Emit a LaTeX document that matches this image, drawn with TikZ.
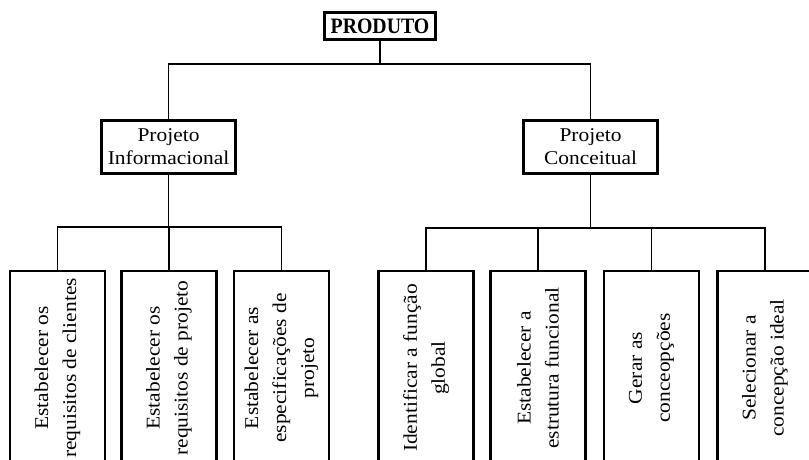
\documentclass[tikz,border=0pt]{standalone}
\usepackage{fontspec}
\setmainfont{Liberation Serif}[FakeStretch=1.1]
\newfontfamily\titlefont{Liberation Serif}[FakeStretch=0.9]
\begin{document}
\begin{tikzpicture}[x=1pt,y=-1pt,
  box/.style={draw=black, line width=2.8pt, rectangle, inner sep=2pt, align=center},
  topbox/.style={box, font=\titlefont\bfseries\fontsize{22}{26}\selectfont,
    minimum width=111pt, minimum height=27pt},
  phasebox/.style={box, font=\fontsize{19.5}{23}\selectfont,
    minimum width=134pt, minimum height=53pt},
  taskbox/.style={box, rotate=90, font=\fontsize{19.5}{28}\selectfont,
    minimum width=194pt, minimum height=95pt},
  conn/.style={draw=black, line width=1.3pt}]
\useasboundingbox (0,0) rectangle (809,460);
\clip (0,0) rectangle (809,460);

% top of the hierarchy
\node[topbox] (prod) at (380,26) {PRODUTO};

% the two design phases
\node[phasebox] (pinf) at (168.5,147) {Projeto\\Informacional};
\node[phasebox] (pcon) at (590.5,147) {Projeto\\Conceitual};

% tasks of the informational phase
\node[taskbox] (l1) at (57.5,368) {Estabelecer os\\requisitos de clientes};
\node[taskbox] (l2) at (169,368) {Estabelecer os\\requisitos de projeto};
\node[taskbox] (l3) at (281.5,368) {Estabelecer as\\especificações de\\projeto};

% tasks of the conceptual phase
\node[taskbox] (r1) at (426,368) {Identificar a função\\global};
\node[taskbox] (r2) at (538,368) {Estabelecer a\\estrutura funcional};
\node[taskbox] (r3) at (651.5,368) {Gerar as\\conceopções};
\node[taskbox] (r4) at (765,368) {Selecionar a\\concepção ideal};

% horizontal buses of the tree
\coordinate (busT) at (380,64);
\coordinate (busL) at (168.5,227);
\coordinate (busR) at (590.5,228);

% connectors
\draw[conn] (prod.south) -- (prod.south |- busT);
\draw[conn] (pinf.north) |- (busT) -| (pcon.north);

\draw[conn] (pinf.south) -- (pinf.south |- busL);
\draw[conn] (l1.east) |- (busL) -| (l3.east);
\draw[conn] (l2.east) -- (l2.east |- busL);

\draw[conn] (pcon.south) -- (pcon.south |- busR);
\draw[conn] (r1.east) |- (busR) -| (r4.east);
\draw[conn] (r2.east) -- (r2.east |- busR);
\draw[conn] (r3.east) -- (r3.east |- busR);
\end{tikzpicture}
\end{document}
